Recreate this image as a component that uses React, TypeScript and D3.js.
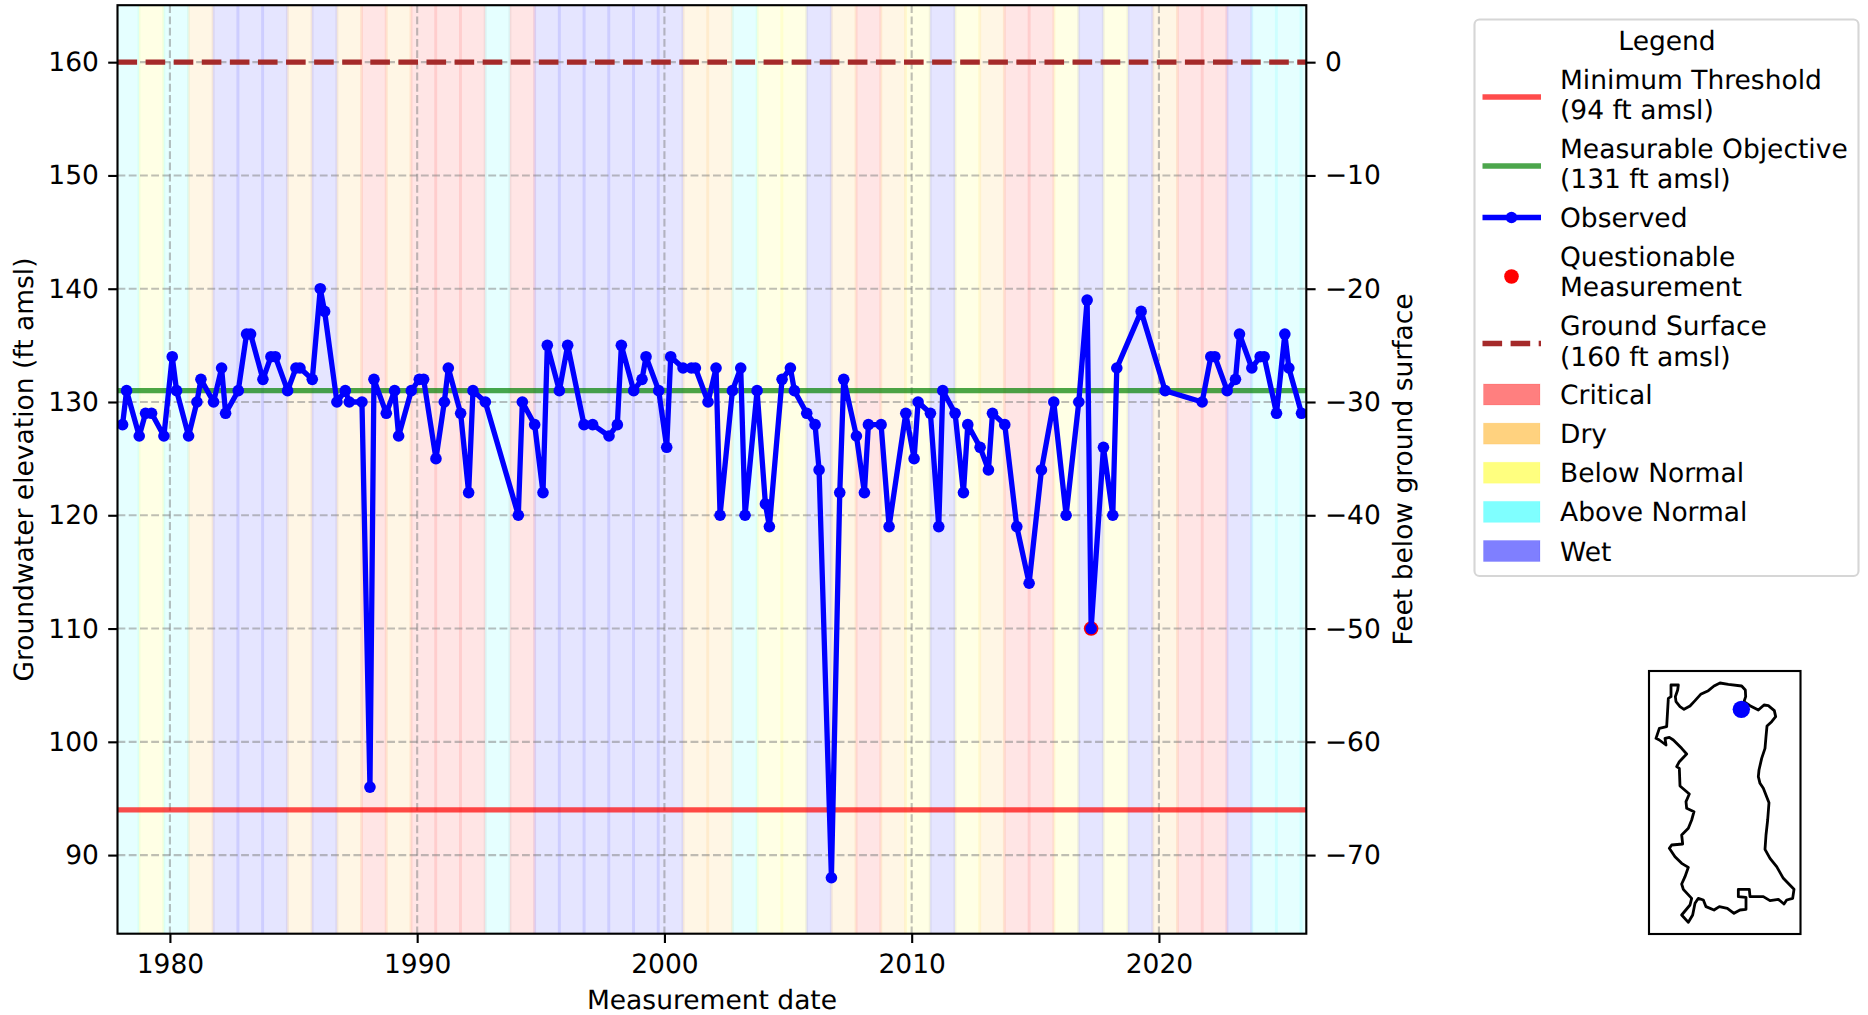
import React, { useEffect, useRef } from 'react';
import * as d3 from 'd3';

// plot box, px
const plot = { left: 117.5, right: 1306.3, top: 5.2, bottom: 933.7 };
const PT = 2.65; // one matplotlib point in this picture
const FONT = '"DejaVu Sans"';
const FS = 26.5;

const xTicks = [1980, 1990, 2000, 2010, 2020];
const yTicks = [90, 100, 110, 120, 130, 140, 150, 160];
const depthTicks = [0, -10, -20, -30, -40, -50, -60, -70];
const yDomain = [83.06, 165.03];

const minThreshold = 94;
const measurableObjective = 131;
const groundSurface = 160;

// observed dates as decimal years
const obsDates = [
  1978.085, 1978.247, 1978.759, 1979.015, 1979.258, 1979.757, 1980.094, 1980.269, 1980.755, 1981.092,
  1981.254, 1981.766, 1982.09, 1982.252, 1982.764, 1983.1, 1983.263, 1983.762, 1984.086, 1984.261,
  1984.76, 1985.097, 1985.259, 1985.758, 1986.081, 1986.256, 1986.755, 1987.093, 1987.254, 1987.767,
  1988.09, 1988.252, 1988.751, 1989.088, 1989.25, 1989.762, 1990.086, 1990.261, 1990.76, 1991.098,
  1991.259, 1991.758, 1992.082, 1992.257, 1992.756, 1994.091, 1994.253, 1994.752, 1995.089, 1995.264,
  1995.75, 1996.087, 1996.747, 1997.098, 1997.759, 1998.096, 1998.258, 1998.757, 1999.094, 1999.256,
  1999.769, 2000.092, 2000.254, 2000.753, 2001.09, 2001.252, 2001.764, 2002.088, 2002.25, 2002.749,
  2003.086, 2003.261, 2003.747, 2004.084, 2004.245, 2004.758, 2005.095, 2005.257, 2005.756, 2006.093,
  2006.255, 2006.754, 2007.091, 2007.252, 2007.765, 2008.088, 2008.25, 2008.763, 2009.086, 2009.761,
  2010.098, 2010.259, 2010.758, 2011.095, 2011.257, 2011.756, 2012.093, 2012.269, 2012.767, 2013.104,
  2013.267, 2013.765, 2014.251, 2014.75, 2015.248, 2015.747, 2016.246, 2016.759, 2017.096, 2017.258,
  2017.756, 2018.134, 2018.296, 2019.28, 2020.251, 2021.748, 2022.098, 2022.26, 2022.759, 2023.096,
  2023.258, 2023.757, 2024.094, 2024.256, 2024.755, 2025.092, 2025.254, 2025.766,
];

const obsValues = [
  128, 131, 127, 129, 129, 127, 134, 131, 127, 130,
  132, 130, 133, 129, 131, 136, 136, 132, 134, 134,
  131, 133, 133, 132, 140, 138, 130, 131, 130, 130,
  96, 132, 129, 131, 127, 131, 132, 132, 125, 130,
  133, 129, 122, 131, 130, 120, 130, 128, 122, 135,
  131, 135, 128, 128, 127, 128, 135, 131, 132, 134,
  131, 126, 134, 133, 133, 133, 130, 133, 120, 131,
  133, 120, 131, 121, 119, 132, 133, 131, 129, 128,
  124, 88, 122, 132, 127, 122, 128, 128, 119, 129,
  125, 130, 129, 119, 131, 129, 122, 128, 126, 124,
  129, 128, 119, 114, 124, 130, 120, 130, 139, 110,
  126, 120, 133, 138, 131, 130, 134, 134, 131, 132,
  136, 133, 134, 134, 129, 136, 133, 129,
];

const questionableDates = [2017.258];
const questionableValues = [110];

// water year types, first one is WY1978
const firstWaterYear = 1978;
const waterYearTypes = [
  'Above Normal', 'Below Normal', 'Above Normal', 'Dry', 'Wet', 'Wet', 'Wet', 'Dry', 'Wet', 'Dry',
  'Critical', 'Dry', 'Critical', 'Critical', 'Critical', 'Above Normal', 'Critical', 'Wet', 'Wet', 'Wet',
  'Wet', 'Wet', 'Wet', 'Dry', 'Dry', 'Above Normal', 'Below Normal', 'Below Normal', 'Wet', 'Dry',
  'Critical', 'Dry', 'Below Normal', 'Wet', 'Below Normal', 'Dry', 'Critical', 'Critical', 'Below Normal', 'Wet',
  'Below Normal', 'Wet', 'Dry', 'Critical', 'Critical', 'Wet', 'Above Normal', 'Above Normal', 'Above Normal',
];

const typeNames = ['Critical', 'Dry', 'Below Normal', 'Above Normal', 'Wet'];
const typeColors = ['red', 'orange', 'yellow', 'cyan', 'blue'];

// basin outline, in map units
const basinOutline: [number, number][] = [
  [93, 75], [115, 75], [113, 90], [106, 110], [108, 125], [120, 140], [132, 148], [150, 138], [165, 122], [182, 103],
  [205, 92], [222, 78], [240, 69], [265, 73], [305, 78], [316, 90], [317, 110], [312, 125], [330, 137], [355, 150],
  [372, 135], [385, 137], [403, 152], [407, 170], [395, 185], [381, 198], [378, 230], [375, 265], [365, 295], [357, 330],
  [355, 350], [360, 370], [370, 385], [387, 428], [383, 480], [378, 525], [375, 568], [390, 595], [410, 620], [430, 655],
  [462, 688], [458, 715], [440, 720], [432, 732], [415, 718], [390, 722], [370, 710], [330, 710], [328, 688], [295, 688],
  [295, 710], [318, 712], [318, 748], [300, 750], [282, 760], [262, 745], [238, 740], [222, 750], [198, 740], [190, 720],
  [175, 715], [165, 730], [158, 765], [145, 787], [125, 765], [150, 735], [155, 715], [130, 688], [125, 672], [135, 650],
  [145, 622], [125, 610], [105, 590], [88, 565], [95, 555], [128, 552], [125, 525], [145, 505], [155, 480], [162, 455],
  [140, 445], [138, 425], [148, 402], [120, 378], [118, 325], [110, 320], [118, 305], [140, 282], [125, 265], [100, 240],
  [88, 232], [75, 235], [78, 255], [58, 240], [48, 235], [58, 205], [80, 200], [85, 115], [93, 110],
];
const wellLocation: [number, number] = [304, 148];

const App = () => {
  const svgRef = useRef<SVGSVGElement>(null);

  useEffect(() => {
    const svg = d3.select(svgRef.current);
    svg.selectAll('*').remove();
    svg.style('text-rendering', 'geometricPrecision');

    const x = d3.scaleLinear().domain([1977.88, 2025.96]).range([plot.left, plot.right]);
    const y = d3.scaleLinear().domain(yDomain).range([plot.bottom, plot.top]);
    const yDepth = d3.scaleLinear().domain(yDomain.map(d => d - groundSurface)).range([plot.bottom, plot.top]);
    const color = d3.scaleOrdinal<string, string>().domain(typeNames).range(typeColors);

    svg.append('clipPath').attr('id', 'plotClip').append('rect')
      .attr('x', plot.left).attr('y', plot.top)
      .attr('width', plot.right - plot.left).attr('height', plot.bottom - plot.top);

    const g = svg.append('g').attr('clip-path', 'url(#plotClip)');

    // water year bands, Oct 1 to Sep 30
    g.append('g').selectAll('rect')
      .data(waterYearTypes)
      .join('rect')
      .attr('x', (_, i) => x(firstWaterYear + i - 0.25))
      .attr('width', (_, i) => x(firstWaterYear + i + 0.75) - x(firstWaterYear + i - 0.25))
      .attr('y', plot.top - 10)
      .attr('height', plot.bottom - plot.top + 20)
      .attr('fill', d => color(d))
      .attr('stroke', d => color(d))
      .attr('stroke-width', 3)
      .attr('fill-opacity', 0.1)
      .attr('stroke-opacity', 0.05);

    // grid
    const gridStyle = (sel: any) => sel
      .attr('stroke', 'gray')
      .attr('stroke-opacity', 0.5)
      .attr('stroke-width', 0.8 * PT)
      .attr('stroke-dasharray', `${3.7 * 0.8 * PT} ${1.6 * 0.8 * PT}`);
    g.append('g').selectAll('line').data(yTicks).join('line')
      .attr('x1', plot.left).attr('x2', plot.right)
      .attr('y1', d => y(d)).attr('y2', d => y(d))
      .call(gridStyle);
    g.append('g').selectAll('line').data(xTicks).join('line')
      .attr('y1', plot.top).attr('y2', plot.bottom)
      .attr('x1', d => x(d)).attr('x2', d => x(d))
      .call(gridStyle);

    // threshold lines
    const hLine = (value: number, stroke: string, opacity: number) => g.append('line')
      .attr('x1', plot.left).attr('x2', plot.right)
      .attr('y1', y(value)).attr('y2', y(value))
      .attr('stroke', stroke).attr('stroke-opacity', opacity).attr('stroke-width', 2 * PT);
    hLine(minThreshold, 'red', 0.7);
    hLine(measurableObjective, 'green', 0.7);
    hLine(groundSurface, 'brown', 1)
      .attr('stroke-dasharray', `${7.4 * PT} ${3.2 * PT}`);

    // questionable measurement sits under the blue series
    g.append('g').selectAll('circle').data(questionableDates).join('circle')
      .attr('cx', d => x(d))
      .attr('cy', (_, i) => y(questionableValues[i]))
      .attr('r', 7.3)
      .attr('fill', 'red');

    const line = d3.line<number>().x(d => x(d)).y((_, i) => y(obsValues[i]));
    g.append('path')
      .attr('d', line(obsDates))
      .attr('fill', 'none')
      .attr('stroke', 'blue')
      .attr('stroke-width', 2 * PT)
      .attr('stroke-linejoin', 'round');
    g.append('g').selectAll('circle').data(obsDates).join('circle')
      .attr('cx', d => x(d))
      .attr('cy', (_, i) => y(obsValues[i]))
      .attr('r', 5.8)
      .attr('fill', 'blue');

    // axes
    const styleAxis = (sel: any) => {
      sel.select('.domain').remove();
      sel.selectAll('line').attr('stroke', 'black').attr('stroke-width', 0.8 * PT);
      sel.selectAll('text').attr('fill', 'black').style('font-family', FONT).style('font-size', `${FS}px`);
    };
    svg.append('g').attr('transform', `translate(0,${plot.bottom})`)
      .call(d3.axisBottom(x).tickValues(xTicks).tickFormat(d3.format('d') as any).tickSize(9.3).tickPadding(11.5))
      .call(styleAxis);
    svg.append('g').attr('transform', `translate(${plot.left},0)`)
      .call(d3.axisLeft(y).tickValues(yTicks).tickFormat(d3.format('d') as any).tickSize(9.3).tickPadding(9.3))
      .call(styleAxis);
    svg.append('g').attr('transform', `translate(${plot.right},0)`)
      .call(d3.axisRight(yDepth).tickValues(depthTicks).tickFormat(d3.format('d') as any).tickSize(9.3).tickPadding(9.3))
      .call(styleAxis);

    svg.append('rect')
      .attr('x', plot.left).attr('y', plot.top)
      .attr('width', plot.right - plot.left).attr('height', plot.bottom - plot.top)
      .attr('fill', 'none').attr('stroke', 'black').attr('stroke-width', 0.8 * PT);

    // axis titles
    const label = (text: string, tx: number, ty: number, rotate = 0) => svg.append('text')
      .attr('transform', `translate(${tx},${ty}) rotate(${rotate})`)
      .attr('text-anchor', 'middle')
      .style('font-family', FONT).style('font-size', `${FS}px`)
      .text(text);
    label('Measurement date', 712, 1009);
    label('Groundwater elevation (ft amsl)', 33, 469.5, -90);
    label('Feet below ground surface', 1412, 469.5, -90);

    // legend
    const legend = svg.append('g');
    legend.append('rect')
      .attr('x', 1474.5).attr('y', 19.5).attr('width', 384).attr('height', 556.5)
      .attr('rx', 5).attr('fill', 'white').attr('stroke', '#d6d6d6').attr('stroke-width', 0.8 * PT);
    const legendText = (text: string, ty: number, tx = 1560, anchor = 'start') => legend.append('text')
      .attr('x', tx).attr('y', ty).attr('text-anchor', anchor)
      .style('font-family', FONT).style('font-size', `${FS}px`)
      .text(text);
    const legendLine = (ly: number, stroke: string, opacity: number) => legend.append('line')
      .attr('x1', 1482.5).attr('x2', 1541).attr('y1', ly).attr('y2', ly)
      .attr('stroke', stroke).attr('stroke-opacity', opacity).attr('stroke-width', 2 * PT);

    legendText('Legend', 50, 1667, 'middle');
    legendLine(97, 'red', 0.7);
    legendText('Minimum Threshold', 88.5);
    legendText(`(${minThreshold} ft amsl)`, 118.5);
    legendLine(166, 'green', 0.7);
    legendText('Measurable Objective', 157.5);
    legendText(`(${measurableObjective} ft amsl)`, 188);
    legendLine(217.5, 'blue', 1);
    legend.append('circle').attr('cx', 1511.5).attr('cy', 217.5).attr('r', 5.8).attr('fill', 'blue');
    legendText('Observed', 227);
    legend.append('circle').attr('cx', 1511.5).attr('cy', 276.5).attr('r', 7.3).attr('fill', 'red');
    legendText('Questionable', 265.5);
    legendText('Measurement', 295.5);
    legendLine(343.5, 'brown', 1).attr('stroke-dasharray', `${7.4 * PT} ${3.2 * PT}`);
    legendText('Ground Surface', 335);
    legendText(`(${groundSurface} ft amsl)`, 366);

    const rowY = d3.scaleLinear().domain([0, 4]).range([404, 560.5]);
    typeNames.forEach((name, i) => {
      legend.append('rect')
        .attr('x', 1483.5).attr('width', 56.5)
        .attr('y', rowY(i) - 20).attr('height', 21)
        .attr('fill', color(name)).attr('fill-opacity', 0.5)
        .attr('stroke', color(name)).attr('stroke-opacity', 0.12).attr('stroke-width', 1);
      legendText(name, rowY(i));
    });

    // locator map
    const mapX = d3.scaleLinear().domain([0, 180 * 3]).range([1640, 1820]);
    const mapY = d3.scaleLinear().domain([0, 280 * 3]).range([660, 940]);
    const map = svg.append('g');
    map.append('rect')
      .attr('x', 1649).attr('y', 671).attr('width', 151.5).attr('height', 263)
      .attr('fill', 'white').attr('stroke', 'black').attr('stroke-width', 0.8 * PT);
    map.append('path')
      .attr('d', d3.line<[number, number]>().x(d => mapX(d[0])).y(d => mapY(d[1])).curve(d3.curveLinearClosed)(basinOutline))
      .attr('fill', 'none').attr('stroke', 'black').attr('stroke-width', 2.8).attr('stroke-linejoin', 'round');
    map.append('circle')
      .attr('cx', mapX(wellLocation[0])).attr('cy', mapY(wellLocation[1]))
      .attr('r', 8.7).attr('fill', 'blue');
  }, []);

  return (
    <svg
      ref={svgRef}
      width={1868}
      height={1015}
      style={{ position: 'absolute', left: 0, top: 0, display: 'block', background: 'white' }}
    />
  );
};

export default App;
